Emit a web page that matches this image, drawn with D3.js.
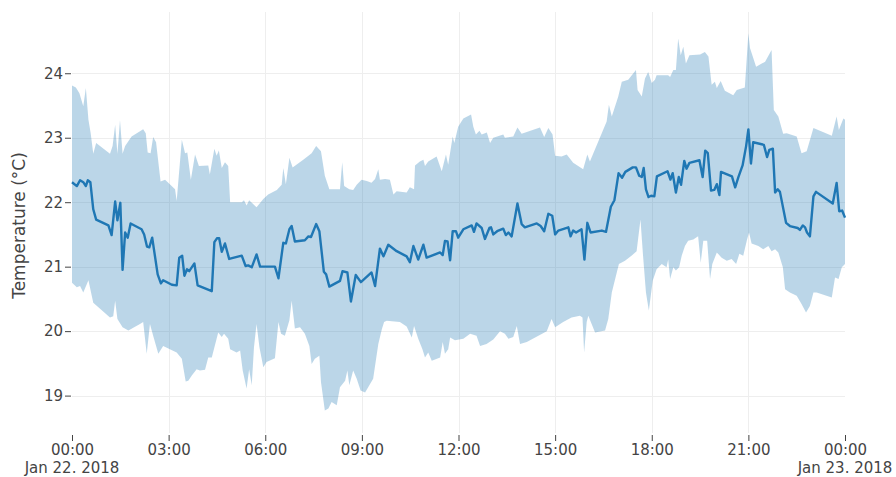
<!DOCTYPE html>
<html>
<head>
<meta charset="utf-8">
<script src="https://cdn.jsdelivr.net/npm/d3@7"></script>
<style>
  html, body { margin: 0; padding: 0; background: #fff; }
  svg { display: block; font-family: "DejaVu Sans", Verdana, sans-serif; }
</style>
</head>
<body>
<svg id="chart" width="896" height="477"></svg>
<script>
// ---- Data (hours since Jan 22 2018 00:00, temperature °C) ----
const meanHours = [0.00,0.15,0.25,0.35,0.43,0.49,0.57,0.66,0.75,1.13,1.23,1.34,1.41,1.50,1.57,1.65,1.73,1.82,2.16,2.24,2.33,2.40,2.49,2.66,2.76,2.83,3.10,3.25,3.33,3.42,3.49,3.57,3.64,3.80,3.90,4.34,4.42,4.50,4.57,4.65,4.75,4.88,5.27,5.39,5.47,5.58,5.73,5.84,5.99,6.30,6.41,6.56,6.64,6.75,6.82,6.92,7.23,7.34,7.42,7.58,7.68,7.82,7.89,7.99,8.32,8.40,8.55,8.66,8.81,8.97,9.30,9.41,9.56,9.67,9.82,10.08,10.39,10.49,10.60,10.75,10.91,11.01,11.43,11.51,11.58,11.66,11.74,11.82,11.92,11.99,12.15,12.41,12.48,12.56,12.72,12.82,12.96,13.01,13.08,13.20,13.39,13.47,13.55,13.65,13.83,13.96,14.06,14.43,14.55,14.66,14.79,14.91,15.00,15.10,15.41,15.48,15.56,15.65,15.82,15.91,16.00,16.10,16.45,16.58,16.73,16.84,16.97,17.08,17.18,17.41,17.51,17.61,17.69,17.75,17.82,17.90,17.98,18.08,18.16,18.49,18.58,18.65,18.75,18.84,18.91,19.01,19.08,19.17,19.48,19.58,19.66,19.74,19.84,19.94,20.02,20.10,20.15,20.49,20.59,20.69,20.82,20.93,21.00,21.08,21.15,21.48,21.58,21.65,21.76,21.83,21.91,21.98,22.17,22.29,22.53,22.60,22.69,22.76,22.82,22.91,23.02,23.10,23.62,23.74,23.82,23.91,24.00];
const meanTemp = [22.31,22.25,22.34,22.31,22.25,22.34,22.31,21.89,21.73,21.64,21.49,22.01,21.72,21.99,20.95,21.53,21.45,21.67,21.58,21.50,21.31,21.30,21.45,20.88,20.74,20.79,20.72,20.71,21.14,21.17,20.86,20.96,20.93,21.05,20.71,20.62,21.38,21.44,21.44,21.23,21.36,21.12,21.17,21.01,21.02,20.99,21.19,21.00,21.00,21.00,20.82,21.37,21.36,21.58,21.63,21.39,21.41,21.47,21.46,21.66,21.55,20.92,20.88,20.69,20.78,20.93,20.91,20.46,20.87,20.76,20.91,20.70,21.28,21.16,21.34,21.24,21.16,21.07,21.32,21.11,21.34,21.14,21.22,21.18,21.40,21.39,21.10,21.55,21.55,21.45,21.58,21.64,21.54,21.67,21.60,21.43,21.60,21.61,21.50,21.55,21.59,21.49,21.53,21.47,21.98,21.66,21.61,21.67,21.63,21.55,21.82,21.79,21.50,21.56,21.61,21.47,21.56,21.53,21.58,21.11,21.68,21.53,21.56,21.54,21.93,22.03,22.45,22.38,22.47,22.54,22.54,22.41,22.39,22.53,22.20,22.08,22.10,22.09,22.40,22.48,22.35,22.45,22.15,22.39,22.27,22.64,22.52,22.61,22.65,22.39,22.80,22.76,22.18,22.19,22.28,22.11,22.47,22.40,22.23,22.39,22.57,22.87,23.13,22.60,22.93,22.89,22.70,22.81,22.83,22.15,22.20,22.16,21.68,21.63,21.60,21.57,21.64,21.61,21.53,21.47,22.09,22.16,21.98,22.30,21.86,21.87,21.76];

const upperHours = [0.00,0.12,0.23,0.35,0.43,0.51,0.58,0.66,0.75,1.18,1.26,1.34,1.41,1.49,1.57,1.65,1.85,2.21,2.29,2.35,2.44,2.52,2.61,2.75,2.89,3.20,3.25,3.41,3.51,3.58,3.69,3.82,3.94,4.23,4.28,4.42,4.49,4.56,4.65,4.75,4.85,4.91,5.27,5.34,5.42,5.50,5.73,5.94,6.09,6.36,6.51,6.56,6.64,6.75,6.85,7.18,7.44,7.58,7.73,7.85,7.99,8.32,8.39,8.45,8.61,8.73,8.84,8.99,9.15,9.30,9.41,9.51,9.56,9.72,9.87,9.98,10.08,10.39,10.49,10.62,10.65,10.80,10.91,10.96,11.06,11.32,11.48,11.61,11.68,11.82,11.87,11.99,12.15,12.39,12.46,12.54,12.65,12.72,12.88,12.98,13.08,13.39,13.44,13.70,13.83,13.96,14.53,14.66,14.79,14.92,15.00,15.20,15.36,15.56,15.87,16.00,16.08,16.34,16.60,16.67,16.76,16.96,17.07,17.27,17.43,17.51,17.56,17.69,17.79,17.89,18.00,18.10,18.15,18.51,18.57,18.67,18.75,18.82,18.90,18.98,19.06,19.17,19.50,19.65,19.76,19.86,19.96,20.02,20.14,20.27,20.53,20.64,20.89,21.00,21.05,21.24,21.52,21.72,21.79,21.93,22.08,22.19,22.50,22.65,22.81,23.02,23.59,23.74,23.81,23.95,24.00];
const upperTemp = [23.81,23.78,23.69,23.49,23.77,23.28,23.07,22.75,22.92,22.75,22.87,23.20,22.75,23.27,22.75,22.87,23.02,23.13,23.07,22.77,22.76,23.01,22.93,22.32,22.35,22.20,22.02,22.97,22.76,22.77,22.35,22.74,22.56,22.57,22.43,22.83,22.72,22.80,22.53,22.62,22.56,22.00,22.00,22.03,21.95,22.03,21.92,22.05,22.12,22.19,22.27,22.53,22.28,22.69,22.54,22.66,22.76,22.87,22.79,22.41,22.20,22.20,22.62,22.25,22.20,22.19,22.27,22.35,22.33,22.30,22.36,22.51,22.35,22.36,22.35,22.12,22.17,22.15,22.23,22.20,22.57,22.63,22.66,22.56,22.63,22.71,22.48,22.74,22.58,23.02,22.92,23.17,23.30,23.36,23.17,23.05,23.11,23.05,23.08,22.92,23.00,23.05,23.00,23.02,23.16,23.06,23.16,23.01,23.15,23.05,22.72,22.71,22.74,22.61,22.51,22.74,22.63,22.94,23.25,23.51,23.33,23.64,23.87,23.90,24.00,24.05,23.74,23.64,23.92,24.02,23.85,23.90,23.97,23.97,23.94,24.05,24.05,24.54,24.28,24.41,24.15,24.28,24.29,24.33,24.26,23.82,23.87,23.77,23.88,23.73,23.66,23.74,23.78,24.62,24.39,24.10,24.18,24.36,23.43,23.33,23.06,23.07,23.02,22.76,22.79,23.15,23.03,23.33,23.12,23.30,23.28];

const lowerHours = [0.00,0.15,0.25,0.35,0.51,0.66,1.18,1.28,1.34,1.41,1.57,1.75,2.11,2.21,2.32,2.42,2.52,2.68,2.83,3.25,3.41,3.53,3.61,3.72,3.87,3.97,4.13,4.23,4.34,4.54,4.65,4.72,4.85,4.91,5.11,5.22,5.30,5.42,5.50,5.58,5.65,5.73,5.82,5.94,6.04,6.30,6.41,6.49,6.61,6.75,6.82,6.92,7.08,7.23,7.37,7.44,7.54,7.68,7.73,7.85,7.96,8.06,8.22,8.32,8.48,8.55,8.61,8.73,8.84,8.96,9.10,9.35,9.51,9.62,9.69,9.77,10.18,10.39,10.55,10.62,10.75,10.88,10.96,11.06,11.17,11.43,11.51,11.58,11.68,11.74,11.89,12.15,12.36,12.56,12.67,12.87,13.08,13.29,13.44,13.55,13.70,13.81,13.91,14.12,14.48,14.74,14.89,15.00,15.25,15.51,15.77,15.85,15.90,15.98,16.03,16.24,16.55,16.65,16.76,16.86,16.98,17.17,17.37,17.53,17.65,17.73,17.82,17.91,18.03,18.15,18.31,18.46,18.51,18.57,18.67,18.75,18.85,18.93,19.03,19.13,19.29,19.44,19.52,19.60,19.72,19.81,19.88,20.02,20.17,20.33,20.48,20.62,20.72,20.84,20.95,21.02,21.10,21.31,21.46,21.62,21.72,21.83,21.93,22.07,22.14,22.29,22.50,22.65,22.79,22.91,23.02,23.12,23.59,23.69,23.80,23.90,24.00];
const lowerTemp = [20.75,20.68,20.70,20.60,20.79,20.44,20.21,20.23,20.47,20.19,20.06,20.01,20.11,20.14,19.65,20.11,19.93,19.65,19.77,19.67,19.57,19.22,19.23,19.31,19.41,19.39,19.40,19.59,19.59,19.98,19.91,19.96,19.88,19.72,19.67,19.70,19.39,19.11,19.41,19.16,19.75,20.11,19.75,19.44,19.52,19.58,20.14,19.96,19.93,20.17,20.47,20.04,20.06,19.96,19.77,19.49,19.57,19.62,19.21,18.77,18.80,18.90,18.85,19.13,19.23,19.39,19.16,19.39,19.26,19.08,19.05,19.26,19.80,20.03,20.14,20.16,20.14,20.07,19.90,20.08,19.88,19.72,19.59,19.67,19.54,19.59,19.83,19.65,19.72,19.90,19.86,19.88,19.96,19.93,19.77,19.80,19.87,20.00,19.96,19.88,19.91,20.08,19.80,19.83,19.93,20.00,20.19,20.06,20.14,20.21,20.24,20.21,19.67,20.14,20.24,19.98,20.01,20.19,20.60,20.80,21.04,21.09,21.17,21.24,21.73,21.17,20.60,20.32,20.78,20.96,21.04,20.99,21.11,20.81,20.99,20.94,20.99,21.17,21.32,21.40,21.42,21.47,21.06,21.40,21.40,20.81,21.04,21.22,21.14,21.09,21.12,21.04,21.20,21.17,21.40,21.53,21.36,21.32,21.27,21.32,21.24,21.27,21.22,20.99,20.65,20.60,20.55,20.42,20.29,20.39,20.60,20.60,20.52,20.83,20.81,20.99,21.04];

const yTicks = [19, 20, 21, 22, 23, 24];
const xTickHours = [0, 3, 6, 9, 12, 15, 18, 21, 24];
const xTickLabels = ["00:00","03:00","06:00","09:00","12:00","15:00","18:00","21:00","00:00"];
const xDateLabels = {0: "Jan 22. 2018", 24: "Jan 23. 2018"};
const yTitle = "Temperature (°C)";

// ---- Layout ----
const plotL = 72, plotR = 845, plotT = 12, plotB = 433;
const t0 = new Date(2018, 0, 22, 0, 0, 0).getTime();
const toDate = h => new Date(t0 + h * 3600000);

const x = d3.scaleTime().domain([toDate(0), toDate(24)]).range([plotL, plotR]);
const y = d3.scaleLinear().domain([18.42, 24.95]).range([plotB, plotT]);

const svg = d3.select("#chart");
const textColor = "#444";
const gridColor = "#eeeeee";

// gridlines
const grid = svg.append("g");
grid.selectAll("line.h").data(yTicks).join("line")
  .attr("x1", plotL).attr("x2", plotR)
  .attr("y1", d => Math.round(y(d)) + 0.5).attr("y2", d => Math.round(y(d)) + 0.5)
  .attr("stroke", gridColor).attr("stroke-width", 1);
grid.selectAll("line.v").data(xTickHours.filter(h => h > 0 && h < 24)).join("line")
  .attr("x1", d => Math.round(x(toDate(d))) + 0.5).attr("x2", d => Math.round(x(toDate(d))) + 0.5)
  .attr("y1", plotT).attr("y2", plotB)
  .attr("stroke", gridColor).attr("stroke-width", 1);

// band
const upperPts = upperHours.map((h, i) => [toDate(h), upperTemp[i]]);
const lowerPts = lowerHours.map((h, i) => [toDate(h), lowerTemp[i]]).reverse();
const bandLine = d3.line().x(d => x(d[0])).y(d => y(d[1]));
svg.append("path")
  .attr("d", bandLine(upperPts.concat(lowerPts)) + "Z")
  .attr("fill", "rgba(31,119,180,0.3)")
  .attr("stroke", "none");

// mean line
const meanPts = meanHours.map((h, i) => [toDate(h), meanTemp[i]]);
svg.append("path")
  .attr("d", d3.line().x(d => x(d[0])).y(d => y(d[1]))(meanPts))
  .attr("fill", "none")
  .attr("stroke", "#1f77b4")
  .attr("stroke-width", 2.4)
  .attr("stroke-linejoin", "round");

// y axis
const yAxis = d3.axisLeft(y).tickValues(yTicks).tickSize(6).tickPadding(2).tickFormat(d3.format("d"));
const yg = svg.append("g").attr("transform", `translate(${plotL - 1},0)`).call(yAxis);
yg.select(".domain").remove();
yg.selectAll(".tick line").attr("stroke", textColor);
yg.selectAll(".tick text").attr("fill", textColor).style("font-size", "15px")
  .style("font-family", '"DejaVu Sans", Verdana, sans-serif');

// x axis
const xAxis = d3.axisBottom(x).tickValues(xTickHours.map(toDate)).tickSize(6).tickPadding(3)
  .tickFormat((d, i) => xTickLabels[i]);
const xg = svg.append("g").attr("transform", `translate(0,${plotB + 2})`).call(xAxis);
xg.select(".domain").remove();
xg.selectAll(".tick line").attr("stroke", textColor);
xg.selectAll(".tick text").attr("fill", textColor).style("font-size", "15px")
  .style("font-family", '"DejaVu Sans", Verdana, sans-serif');

// date labels under first/last ticks
svg.append("g").selectAll("text").data(Object.keys(xDateLabels).map(Number)).join("text")
  .attr("x", d => x(toDate(d)))
  .attr("y", 473)
  .attr("text-anchor", "middle")
  .attr("fill", textColor)
  .style("font-size", "15px")
  .text(d => xDateLabels[d]);

// y title
svg.append("text")
  .attr("transform", `translate(25,${(plotT + plotB) / 2 + 3}) rotate(-90)`)
  .attr("text-anchor", "middle")
  .attr("fill", textColor)
  .style("font-size", "17px")
  .text(yTitle);
</script>
</body>
</html>
